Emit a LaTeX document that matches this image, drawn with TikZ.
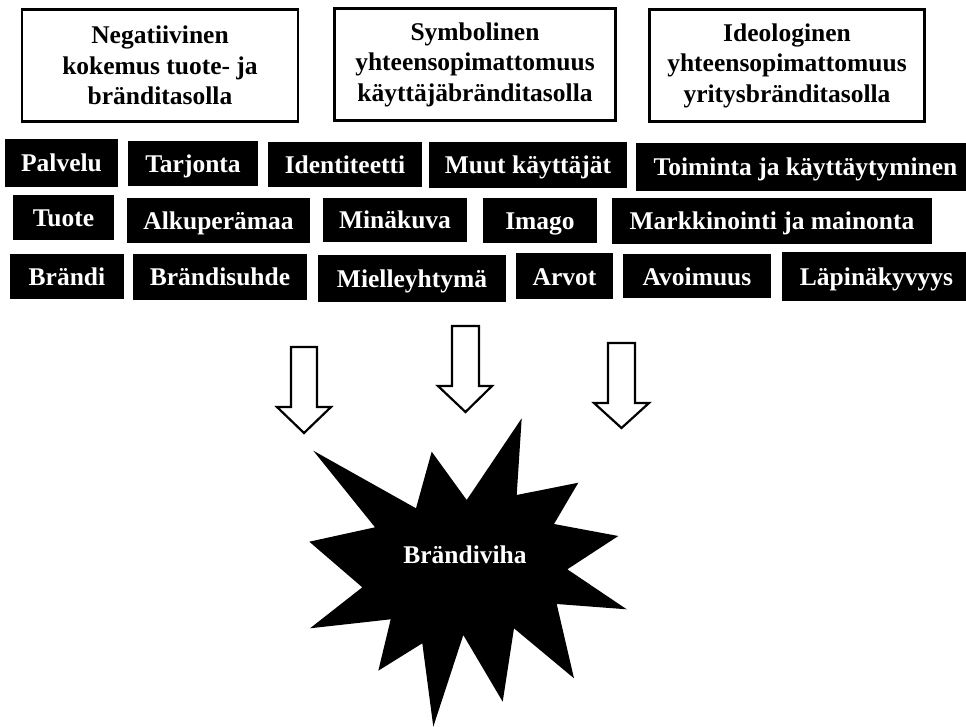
\documentclass[tikz,border=0pt]{standalone}
\usepackage{fontspec}
\setmainfont{Liberation Serif}
\begin{document}
\begin{tikzpicture}[x=1pt,y=-1pt,
  headbox/.style={draw=black, line width=2.5pt, align=center,
    font=\bfseries\fontsize{25.5}{30.5}\selectfont, inner sep=0pt,
    minimum height=112pt},
  tag/.style={fill=black, text=white, inner sep=0pt,
    font=\bfseries\fontsize{25.5}{30}\selectfont,
    text height=18pt, text depth=0pt},
  blockarrow/.style={draw=black, line width=2.2pt, fill=white, line join=miter},
]
\useasboundingbox (0,0) rectangle (966,727);

% Three headline boxes
\node[headbox, minimum width=276pt] (neg) at (160,65.5)
  {Negatiivinen\\kokemus tuote- ja\\bränditasolla};
\node[headbox, minimum width=281pt] (sym) at (475,64.5)
  {Symbolinen\\yhteensopimattomuus\\käyttäjäbränditasolla};
\node[headbox, minimum width=275pt] (ideo) at (787,65.5)
  {Ideologinen\\yhteensopimattomuus\\yritysbränditasolla};

% First row of factors
\node[tag, minimum width=113pt, minimum height=48pt] (palvelu)  at (61.5,163)   {Palvelu};
\node[tag, minimum width=130pt, minimum height=45pt] (tarjonta) at (193,163.5)  {Tarjonta};
\node[tag, minimum width=154pt, minimum height=45pt] (ident)    at (345,164.5)  {Identiteetti};
\node[tag, minimum width=198pt, minimum height=46pt] (muut)     at (528,165)    {Muut käyttäjät};
\node[tag, minimum width=339pt, minimum height=48pt] (toiminta) at (805.5,167)  {Toiminta ja käyttäytyminen};

% Second row of factors
\node[tag, minimum width=101pt, minimum height=45pt] (tuote)    at (63.5,217.5) {Tuote};
\node[tag, minimum width=183pt, minimum height=45pt] (alku)     at (218.5,220.5){Alkuperämaa};
\node[tag, minimum width=144pt, minimum height=44pt] (mina)     at (395,220)    {Minäkuva};
\node[tag, minimum width=114pt, minimum height=45pt] (imago)    at (540,220.5)  {Imago};
\node[tag, minimum width=320pt, minimum height=46pt] (markk)    at (772,221)    {Markkinointi ja mainonta};

% Third row of factors
\node[tag, minimum width=114pt, minimum height=45pt] (brandi)   at (67,276.5)   {Brändi};
\node[tag, minimum width=174pt, minimum height=46pt] (suhde)    at (220,277)    {Brändisuhde};
\node[tag, minimum width=188pt, minimum height=47pt] (miel)     at (412,278.5)  {Mielleyhtymä};
\node[tag, minimum width=97pt,  minimum height=46pt] (arvot)    at (564.5,276)  {Arvot};
\node[tag, minimum width=148pt, minimum height=44pt] (avoim)    at (697,276)    {Avoimuus};
\node[tag, minimum width=189pt, minimum height=49pt] (lapi)     at (876.5,276.5){Läpinäkyvyys};

% Hollow block arrows pointing down
\draw[blockarrow] (291,347) -- (317,347) -- (317,407) -- (331,407) -- (304,433)
  -- (277,407) -- (291,407) -- cycle;
\draw[blockarrow] (452,326) -- (479,326) -- (479,386) -- (492,386) -- (465.5,412)
  -- (438,386) -- (452,386) -- cycle;
\draw[blockarrow] (608,343) -- (635,343) -- (635,403) -- (649,403) -- (621.5,428)
  -- (594,403) -- (608,403) -- cycle;

% Black explosion star
\fill[black] (313.3,450.7) -- (416,508.3) -- (431.7,451.7) -- (466.7,500)
  -- (521.7,418.3) -- (516.7,495) -- (578.3,482.7) -- (554,524)
  -- (618.3,536) -- (567.3,569.3) -- (626.7,609.3) -- (556.7,604)
  -- (574,678.3) -- (514,628.3) -- (502.7,701.7) -- (463.3,635)
  -- (433.3,726.7) -- (422.3,643.3) -- (378.3,670.7) -- (390.7,619.3)
  -- (310,628.3) -- (362.3,587.3) -- (309.3,541.7) -- (375,527.3) -- cycle;
\node[text=white, font=\bfseries\fontsize{25.5}{30}\selectfont, inner sep=0pt] (viha)
  at (465,555) {Brändiviha};
\end{tikzpicture}
\end{document}
